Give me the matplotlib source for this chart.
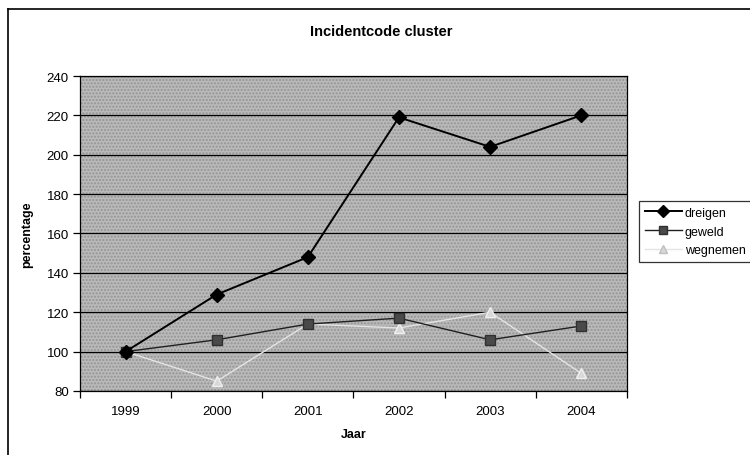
import matplotlib
matplotlib.use("Agg")
import matplotlib.pyplot as plt
from matplotlib.lines import Line2D

plt.rcParams["font.family"] = ["Liberation Sans", "DejaVu Sans"]

years = ["1999", "2000", "2001", "2002", "2003", "2004"]
dreigen = [100, 129, 148, 219, 204, 220]
geweld = [100, 106, 114, 117, 106, 113]
wegnemen = [100, 85, 114, 112, 120, 89]
yticks = [80, 100, 120, 140, 160, 180, 200, 220, 240]

fig = plt.figure(figsize=(7.5, 4.56), dpi=100)
ax = fig.add_axes([0.1067, 0.1404, 0.729, 0.6907])
ax.set_facecolor("#bababa")
ax.patch.set_hatch(".....")
ax.patch.set_edgecolor("#939393")
ax.patch.set_linewidth(0)

x = list(range(len(years)))
for v in yticks:
    ax.axhline(v, color="black", lw=0.9, zorder=1)

ax.plot(x, wegnemen, color="#e4e4e4", lw=1, marker="^", ms=7,
        mfc="#d8d8d8", mec="#f0f0f0", zorder=2)
ax.plot(x, geweld, color="#202020", lw=1, marker="s", ms=6.5,
        mfc="#4a4a4a", mec="#303030", zorder=3)
ax.plot(x, dreigen, color="black", lw=1.4, marker="D", ms=7,
        mfc="black", mec="black", zorder=4)

ax.set_xlim(-0.5, 5.5)
ax.set_ylim(80, 240)
ax.set_yticks(yticks)
ax.set_xticks(x)
ax.set_xticklabels(years)
ax.set_xticks([i - 0.5 for i in range(len(years) + 1)], minor=True)
ax.tick_params(axis="x", which="major", length=0, pad=10, labelsize=9.5)
ax.tick_params(axis="x", which="minor", length=5, width=0.9, direction="out")
ax.tick_params(axis="y", length=5, width=0.9, direction="out", pad=3, labelsize=9.5)
for s in ax.spines.values():
    s.set_color("black")
    s.set_linewidth(0.9)

ax.set_xlabel("Jaar", fontweight="bold", fontsize=9, labelpad=8)
ax.set_ylabel("percentage", fontweight="bold", fontsize=9, labelpad=10)
fig.text(0.509, 0.93, "Incidentcode cluster", ha="center", va="center",
         fontweight="bold", fontsize=10.5)

handles = [
    Line2D([], [], color="black", lw=1.4, marker="D", ms=6, mfc="black"),
    Line2D([], [], color="#202020", lw=1, marker="s", ms=6, mfc="#4a4a4a", mec="#303030"),
    Line2D([], [], color="#e4e4e4", lw=1, marker="^", ms=6, mfc="#d8d8d8", mec="#c0c0c0"),
]
leg = fig.legend(handles, ["dreigen", "geweld", "wegnemen"], loc="upper left",
                 bbox_to_anchor=(0.852, 0.557), fontsize=9, frameon=True,
                 fancybox=False, borderpad=0.45, labelspacing=0.55,
                 handlelength=3.0, handletextpad=0.2, borderaxespad=0)
leg.get_frame().set_edgecolor("black")
leg.get_frame().set_linewidth(0.9)

# outer chart border (left and top visible)
fig.add_artist(Line2D([0.0107, 0.0107], [0, 0.978], color="black", lw=1.2))
fig.add_artist(Line2D([0.0107, 1.0], [0.978, 0.978], color="black", lw=1.2))

fig.savefig("out.png", dpi=100)
